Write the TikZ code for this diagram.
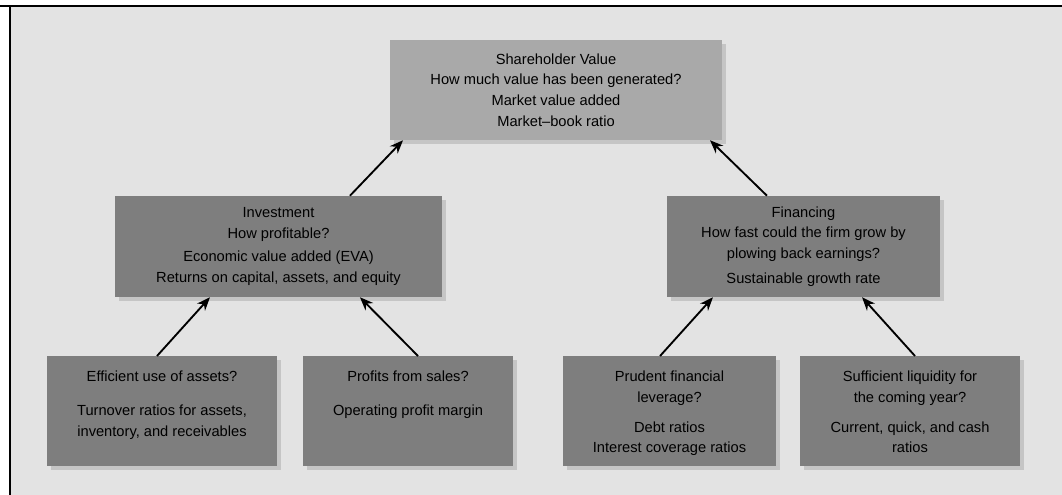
\documentclass[tikz,border=0pt]{standalone}
\usepackage{fontspec}
\setmainfont{Liberation Sans}
\usetikzlibrary{arrows.meta,shadows}
\definecolor{bggray}{HTML}{E3E3E3}
\definecolor{topgray}{HTML}{A9A9A9}
\definecolor{boxgray}{HTML}{7E7E7E}
% text of a lower box, set from the top
\newcommand{\lowtext}[2]{\parbox[c][82.5pt][t]{#1}{\centering\vspace*{11pt}#2}}
\begin{document}
\begin{tikzpicture}[x=0.75pt,y=-0.75pt,
  box/.style={fill=boxgray, inner sep=0pt, align=center,
    drop shadow={opacity=0.3,shadow xshift=3pt,shadow yshift=-3pt},
    font=\fontsize{11}{15.5}\selectfont, text=black},
  topbox/.style={box, fill=topgray},
  lowbox/.style={box, anchor=north},
  link/.style={-{Stealth[length=10pt,width=8pt]}, line width=1.4pt}]
  \useasboundingbox (0,0) rectangle (1062,495);
  % frame and background
  \fill[white] (0,0) rectangle (1062,495);
  \fill[bggray] (10,6) rectangle (1062,495);
  \draw[line width=1.5pt] (0,6) -- (1062,6);
  \draw[line width=1.5pt] (10,6) -- (10,495);
  % top level
  \node[topbox, minimum width=249pt, minimum height=75pt] (sv) at (556,90)
    {Shareholder Value\\How much value has been generated?\\Market value added\\Market--book ratio};
  % middle level
  \node[box, minimum width=245.25pt, minimum height=75.75pt] (inv) at (278.5,246.5)
    {Investment\\How profitable?\\[2pt]Economic value added (EVA)\\Returns on capital, assets, and equity};
  \node[box, minimum width=204.75pt, minimum height=75.75pt] (fin) at (803.5,246.5)
    {Financing\\How fast could the firm grow by\\plowing back earnings?\\[3pt]Sustainable growth rate};
  % bottom level
  \node[lowbox] (eff) at (162,356)
    {\lowtext{172.5pt}{Efficient use of assets?\\[10pt]Turnover ratios for assets,\\inventory, and receivables}};
  \node[lowbox] (prof) at (408,356)
    {\lowtext{157.5pt}{Profits from sales?\\[10pt]Operating profit margin}};
  \node[lowbox] (lev) at (669.5,356)
    {\lowtext{159.75pt}{Prudent financial\\leverage?\\[7pt]Debt ratios\\Interest coverage ratios}};
  \node[lowbox] (liq) at (910,356)
    {\lowtext{165pt}{Sufficient liquidity for\\the coming year?\\[7pt]Current, quick, and cash\\ratios}};
  % arrows
  \draw[link] ([xshift=53.6pt]inv.north) -- ([xshift=-114.75pt]sv.south);
  \draw[link] ([xshift=-27.4pt]fin.north) -- ([xshift=115.5pt]sv.south);
  \draw[link] ([xshift=-3.75pt]eff.north) -- ([xshift=-51.4pt]inv.south);
  \draw[link] ([xshift=7.5pt]prof.north) -- ([xshift=61.1pt]inv.south);
  \draw[link] ([xshift=-7.1pt]lev.north) -- ([xshift=-67.9pt]fin.south);
  \draw[link] ([xshift=3.75pt]liq.north) -- ([xshift=43.9pt]fin.south);
\end{tikzpicture}
\end{document}
